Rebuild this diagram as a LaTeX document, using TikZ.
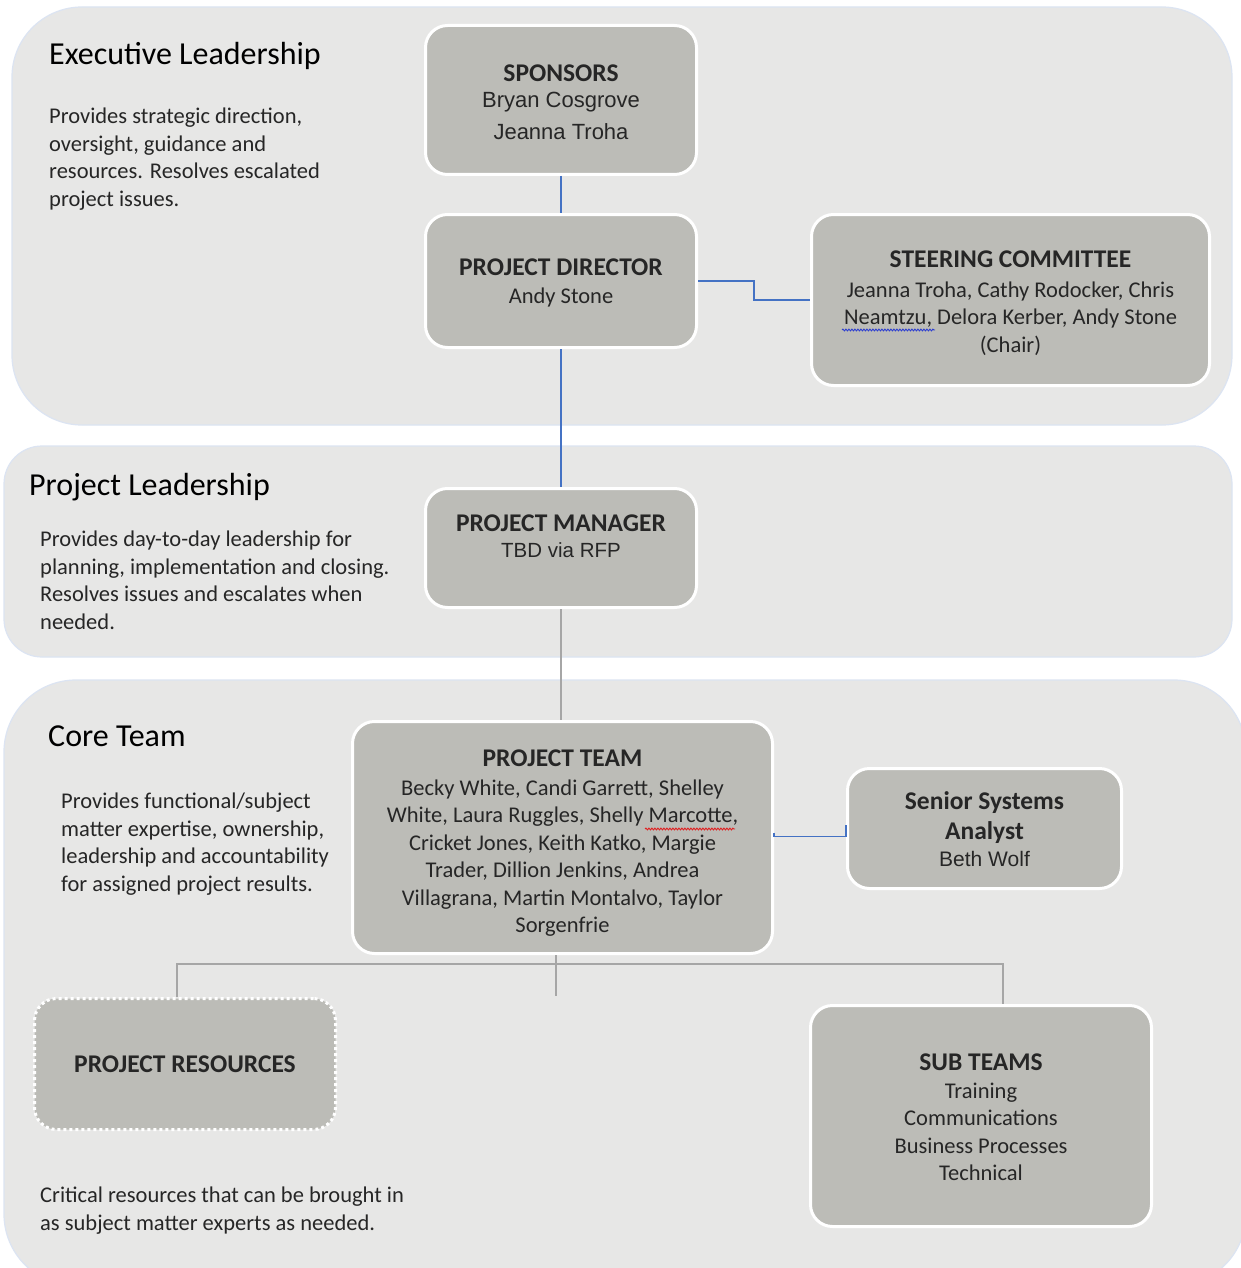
\documentclass[tikz,border=0pt]{standalone}
\usepackage{fontspec}
\setmainfont{Carlito}
\newfontfamily\arialfont{Liberation Sans}
\usetikzlibrary{calc,decorations.pathmorphing}

\definecolor{bandfill}{HTML}{E7E7E6}
\definecolor{bandline}{HTML}{DCE4F2}
\definecolor{boxfill}{HTML}{BCBCB7}
\definecolor{linkblue}{HTML}{4472C4}
\definecolor{linkgray}{HTML}{A6A6A6}
\definecolor{inktext}{HTML}{262626}
\definecolor{spellblue}{HTML}{2E3FD0}
\definecolor{spellred}{HTML}{E02020}

\newcommand{\boxtitle}[2][16.4pt]{\rule{0pt}{#1}{\bfseries\fontsize{25.5}{27.5}\selectfont #2}}
\newcommand{\arialname}[2][21]{{\arialfont\fontsize{#1}{27.5}\selectfont #2}}

\tikzset{
  band/.style={fill=bandfill, draw=bandline, line width=1.2pt},
  orgbox/.style={rectangle, rounded corners=22pt, fill=boxfill, draw=white, line width=3pt,
    align=center, inner sep=0pt, text=inktext, font=\fontsize{22.5}{27.5}\selectfont},
  heading/.style={anchor=west, inner sep=0pt, text=black, font=\fontsize{32}{34}\selectfont},
  blurb/.style={anchor=north west, align=left, inner sep=0pt, text=inktext, font=\fontsize{22.5}{27.5}\selectfont},
  bluelink/.style={draw=linkblue, line width=1.3pt},
  graylink/.style={draw=linkgray, line width=1.3pt},
  spellmark/.style={line width=0.9pt, decorate, decoration={snake, amplitude=0.9pt, segment length=3pt}},
}

\begin{document}
\begin{tikzpicture}[x=1pt,y=1pt,yscale=-1]
\useasboundingbox (0,0) rectangle (1241,1268);
\fill[white] (0,0) rectangle (1241,1268);

%Bands
\draw[band, rounded corners=70pt] (12,7) rectangle (1232,425);
\draw[band, rounded corners=38pt] (4,446) rectangle (1232,657);
\draw[band, rounded corners=72pt] (4,680) rectangle (1246,1286);

% Text Node
\node[heading] (exechead) at (49,56) {Executive Leadership};
\node[blurb] (execnote) at (49,108) {Provides strategic direction,\\oversight, guidance and\\resources. Resolves escalated\\project issues.};
% Text Node
\node[heading] (leadhead) at (29,487) {Project Leadership};
\node[blurb] (leadnote) at (40,531) {Provides day-to-day leadership for\\planning, implementation and closing.\\Resolves issues and escalates when\\needed.};
% Text Node
\node[heading] (corehead) at (48,736) {Core Team};
\node[blurb] (corenote) at (61,793) {Provides functional/subject\\matter expertise, ownership,\\leadership and accountability\\for assigned project results.};
% Text Node
\node[blurb] (resnote) at (40,1187) {Critical resources that can be brought in\\as subject matter experts as needed.};

%Rounded Rect
\node[orgbox, minimum width=271pt, minimum height=149pt] (spons) at (561,100)
  {\boxtitle[21.5pt]{SPONSORS}\\[-1.5pt]\arialname[22]{Bryan Cosgrove}\\[4.5pt]\arialname[22]{Jeanna Troha}};
%Rounded Rect
\node[orgbox, minimum width=271pt, minimum height=133pt] (dir) at (561,281)
  {\boxtitle[20.5pt]{PROJECT DIRECTOR}\\Andy Stone};
%Rounded Rect
\node[orgbox, minimum width=398pt, minimum height=171pt] (steer) at (1010.5,300)
  {\boxtitle[22.5pt]{STEERING COMMITTEE}\\[2.5pt]Jeanna Troha, Cathy Rodocker, Chris\\Neamtzu, Delora Kerber, Andy Stone\\(Chair)};
%Rounded Rect
\node[orgbox, minimum width=271pt, minimum height=119pt] (pm) at (561,548) {};
\node[orgbox, draw=none, fill=none, rounded corners=0pt] (pmtext) at (561,536)
  {\boxtitle{PROJECT MANAGER}\\[-1.5pt]\arialname[20.5]{TBD via RFP}};
%Rounded Rect
\node[orgbox, minimum width=420pt, minimum height=232pt] (team) at (562.5,837.5)
  {\boxtitle[27.5pt]{PROJECT TEAM}\\[1.5pt]Becky White, Candi Garrett, Shelley\\White, Laura Ruggles, Shelly Marcotte,\\Cricket Jones, Keith Katko, Margie\\Trader, Dillion Jenkins, Andrea\\Villagrana, Martin Montalvo, Taylor\\Sorgenfrie};
%Rounded Rect
\node[orgbox, minimum width=274pt, minimum height=120pt] (senior) at (984.5,828.5)
  {\boxtitle[19.5pt]{Senior Systems}\\[2.5pt]\boxtitle{Analyst}\\\arialname{Beth Wolf}};
%Rounded Rect
\node[orgbox, dash pattern=on 3pt off 3pt, minimum width=301pt, minimum height=131pt] (res) at (185,1064)
  {\boxtitle{PROJECT RESOURCES}};
%Rounded Rect
\node[orgbox, minimum width=341pt, minimum height=221pt] (sub) at (981,1116)
  {\boxtitle[19.5pt]{SUB TEAMS}\\Training\\Communications\\Business Processes\\Technical};

%Spelling marks
\draw[spellmark, spellblue] (842,330) -- (935,330);
\draw[spellmark, spellred] (645,829) -- (735,829);

%Straight Lines
\draw[bluelink] (spons) -- (dir);
\draw[bluelink] (dir.east) -| ($(dir.east)!0.5!(steer.west)$) |- (steer.west);
\draw[bluelink] (dir) -- (pm);
\draw[graylink] (pm.south) -- (pm.south |- team.north);
\draw[bluelink] ($(team.east)+(0,-5)$) -- ($(team.east)+(0,-1)$) -- ($(senior.west |- team.east)+(0,-1)$) -- ($(senior.west)+(0,-4)$);

\coordinate (hub) at (556,964);
\coordinate (tail) at (556,996);
\draw[graylink] (hub |- team.south) -- (tail);
\draw[graylink] ([xshift=-8pt]res.north) |- (hub) -| ([xshift=22pt]sub.north);
\end{tikzpicture}
\end{document}
